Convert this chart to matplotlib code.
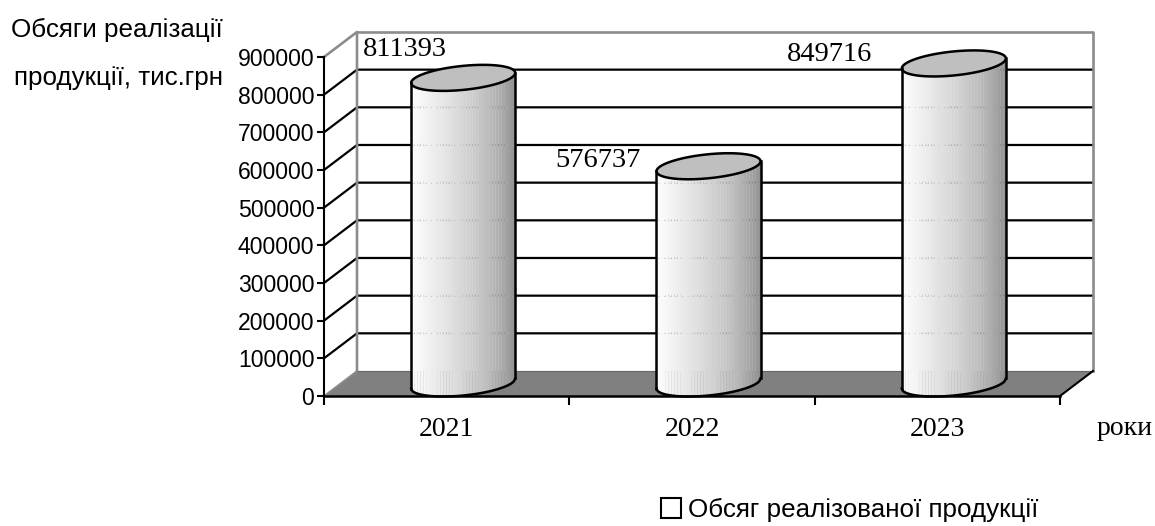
import matplotlib
matplotlib.use('Agg')
import matplotlib.pyplot as plt
from matplotlib.patches import Patch, Polygon
import numpy as np

years = ['2021', '2022', '2023']
values = [811393, 576737, 849716]
value_ticks = [0, 100000, 200000, 300000, 400000, 500000, 600000, 700000, 800000, 900000]
series_name = 'Обсяг реалізованої продукції'

# depth of the 3d box, in axis units
depth_x = 0.1345
depth_y = 66400
# cylinder shape
radius_x = 0.212
radius_y = 31900
tilt = 13300

sans = 'Liberation Sans'
serif = 'Liberation Serif'
wall_grey = '#8c8c8c'

fig = plt.figure(figsize=(11.55, 5.26), dpi=100)
ax = fig.add_axes([324 / 1155, (526 - 396) / 526, 736 / 1155, 339 / 526])
ax.set_xlim(0, 3)
ax.set_ylim(0, 900000)
ax.spines['top'].set_visible(False)
ax.spines['right'].set_visible(False)
ax.spines['left'].set_linewidth(1.5)
ax.spines['bottom'].set_linewidth(1.8)
ax.spines['left'].set_zorder(6)
ax.spines['bottom'].set_zorder(6)

# y axis, x axis with ticks between the categories
ax.set_yticks(value_ticks)
ax.set_yticklabels([str(v) for v in value_ticks], fontfamily=sans, fontsize=16.6)
ax.set_xticks([0, 1, 2, 3])
ax.set_xticklabels([])
ax.set_xticks([0.5, 1.5, 2.5], minor=True)
ax.set_xticklabels(years, minor=True, fontfamily=serif, fontsize=20)
ax.tick_params(axis='y', length=5, width=1.5, pad=2)
ax.tick_params(axis='x', which='major', length=6.5, width=1.5)
ax.tick_params(axis='x', which='minor', length=0, pad=15)

# floor
ax.add_patch(Polygon([(0, 0), (3, 0), (3 + depth_x, depth_y), (depth_x, depth_y)],
                     closed=True, facecolor='#808080', edgecolor='none', clip_on=False, zorder=2))
ax.plot([3, 3 + depth_x], [0, depth_y], color='black', lw=1.5, clip_on=False, zorder=5)
ax.plot([depth_x, 3 + depth_x], [depth_y, depth_y], color='#666666', lw=0.8, clip_on=False, zorder=2)

# grid on the back wall and on the side wall
for v in value_ticks[1:-1]:
    ax.plot([0, depth_x, 3 + depth_x], [v, v + depth_y, v + depth_y], color='black', lw=1.6,
            clip_on=False, zorder=1)

# wall frame
top = 900000 + depth_y
ax.plot([0, depth_x, depth_x], [900000, top, depth_y], color=wall_grey, lw=1.9, clip_on=False, zorder=1.5)
ax.plot([0, depth_x], [0, depth_y], color=wall_grey, lw=1.2, clip_on=False, zorder=3)
ax.plot([depth_x, 3 + depth_x, 3 + depth_x], [top, top, depth_y], color=wall_grey, lw=1.9,
        clip_on=False, zorder=1.5)


def lower_arc(x, cx, cy):
    u = (x - cx) / radius_x
    return cy - radius_y * np.sqrt(np.clip(1 - u * u, 0, 1)) + tilt * u


# cylinders
for i in range(len(years)):
    cx = i + 0.5 + depth_x / 2
    cy = values[i] + depth_y / 2
    base = depth_y / 2

    # banded shading, light on the left and dark on the right
    edges = np.linspace(cx - radius_x, cx + radius_x, 37)
    for k in range(36):
        pos = k / 35
        shade = 0.99 - 0.3 * pos - 0.12 * pos ** 5
        xs = np.linspace(edges[k], edges[k + 1] + 0.001, 5)
        ax.fill_between(xs, lower_arc(xs, cx, base), lower_arc(xs, cx, cy), color=str(shade),
                        lw=0, clip_on=False, zorder=3)

    # grid shows through as faint dots
    for v in value_ticks[1:-1]:
        if v + depth_y < cy - radius_y:
            ax.plot([cx - radius_x * 0.97, cx + radius_x * 0.97], [v + depth_y, v + depth_y],
                    color='0.7', lw=0.6, ls=(0, (1, 6)), zorder=3.2)

    t = np.linspace(0, 2 * np.pi, 200)
    ex = cx + radius_x * np.cos(t)
    ey = cy + radius_y * np.sin(t) + tilt * np.cos(t)
    ax.fill(ex, ey, facecolor='#bfbfbf', edgecolor='black', lw=1.8, clip_on=False, zorder=4)

    # outline of the body
    xs = np.linspace(cx - radius_x, cx + radius_x, 100)
    ax.plot(xs, lower_arc(xs, cx, base), color='black', lw=1.8, clip_on=False, zorder=4)
    ax.plot([cx - radius_x, cx - radius_x], [base - tilt, cy - tilt], color='black', lw=1.8,
            clip_on=False, zorder=4)
    ax.plot([cx + radius_x, cx + radius_x], [base + tilt, cy + tilt], color='black', lw=1.8,
            clip_on=False, zorder=4)

# value labels
label_shift = [(-42, 41), (-94, 18), (-108, 21)]
for i in range(len(years)):
    ax.annotate(str(values[i]), xy=(i + 0.5, values[i]), xytext=label_shift[i], textcoords='offset pixels',
                ha='center', va='center', fontfamily=serif, fontsize=20.5, zorder=7, annotation_clip=False)

fig.text(223 / 1155, 1 - 30 / 526, 'Обсяги реалізації', ha='right', va='center', fontfamily=sans, fontsize=18.7)
fig.text(223 / 1155, 1 - 78 / 526, 'продукції, тис.грн', ha='right', va='center', fontfamily=sans, fontsize=18.7)
fig.text(1097 / 1155, 1 - 435 / 526, 'роки', ha='left', va='baseline', fontfamily=serif, fontsize=20)

fig.legend(handles=[Patch(facecolor='white', edgecolor='black', lw=1.5, label=series_name)],
           loc='center left', bbox_to_anchor=(661 / 1155, 1 - 510 / 526), frameon=False,
           prop={'family': sans, 'size': 18.7}, handlelength=0.78, handleheight=0.78,
           handletextpad=0.27, borderpad=0, borderaxespad=0)

plt.savefig('out.png', dpi=100)
